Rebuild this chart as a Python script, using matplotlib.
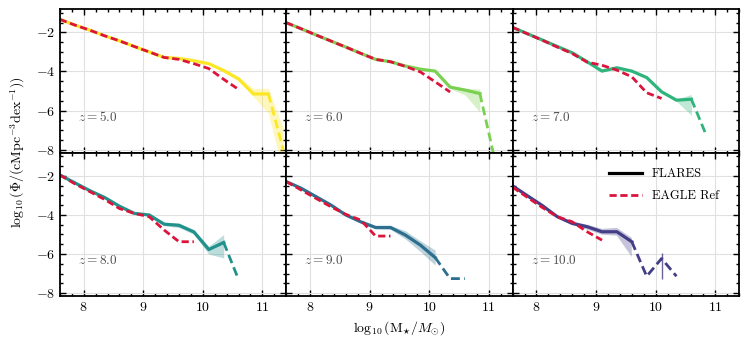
import numpy as np
import matplotlib
matplotlib.use("Agg")
import matplotlib.pyplot as plt
from matplotlib.ticker import MultipleLocator
from matplotlib.lines import Line2D

plt.rcParams["font.family"] = "serif"
plt.rcParams["font.serif"] = ["cmr10", "DejaVu Serif"]
plt.rcParams["mathtext.fontset"] = "cm"
plt.rcParams["axes.formatter.use_mathtext"] = True

nan = np.nan

# stellar mass bin centres, log10(M*/Msun)
mass = np.array([7.6, 7.85, 8.1, 8.35, 8.6, 8.85, 9.1, 9.35,
                 9.6, 9.85, 10.1, 10.35, 10.6, 10.85, 11.1, 11.35])

redshifts = [5.0, 6.0, 7.0, 8.0, 9.0, 10.0]
colors = ["#fde725", "#7ad151", "#2fb47c", "#21918c", "#2c6f8e", "#433e85"]

# last bin drawn solid (beyond: dashed)
solid_lim = [11.1, 10.85, 10.6, 10.35, 10.1, 9.6]

# FLARES GSMF
flares_phi = [
    [-1.33, -1.62, -1.88, -2.17, -2.43, -2.72, -3.00, -3.28, -3.33, -3.45, -3.60, -3.95, -4.38, -5.15, -5.15, -8.00],
    [-1.50, -1.81, -2.13, -2.44, -2.75, -3.07, -3.38, -3.50, -3.72, -3.88, -3.98, -4.80, -4.95, -5.13, -8.50, nan],
    [-1.74, -2.07, -2.39, -2.72, -3.04, -3.50, -3.98, -3.81, -3.98, -4.31, -5.04, -5.47, -5.42, -7.26, nan, nan],
    [-1.95, -2.35, -2.75, -3.10, -3.55, -3.92, -4.00, -4.47, -4.53, -4.87, -5.77, -5.41, -7.31, nan, nan, nan],
    [-2.29, -2.63, -3.06, -3.49, -4.00, -4.35, -4.64, -4.64, -5.03, -5.54, -6.18, -7.26, -7.26, nan, nan, nan],
    [-2.51, -3.02, -3.52, -4.09, -4.43, -4.60, -4.86, -4.86, -5.37, -7.14, -6.23, -7.14, nan, nan, nan, nan],
]
# band: offsets above / below the FLARES curve
flares_up = [
    [.02, .02, .02, .02, .02, .02, .02, .02, .03, .03, .05, .08, .12, .28, .28, 1.10],
    [.02, .02, .02, .02, .02, .02, .02, .03, .03, .04, .05, .08, .08, .23, nan, nan],
    [.02, .02, .02, .02, .03, .03, .03, .03, .04, .05, .06, .06, .24, nan, nan, nan],
    [.02, .02, .02, .03, .03, .04, .05, .08, .12, .12, .17, .41, nan, nan, nan, nan],
    [.02, .03, .03, .04, .05, .06, .08, .10, .22, .22, .38, nan, nan, nan, nan, nan],
    [.03, .03, .04, .05, .10, .10, .15, .20, .20, nan, .26, nan, nan, nan, nan, nan],
]
flares_dn = [
    [.02, .02, .02, .02, .02, .02, .02, .02, .03, .03, .05, .08, .12, .15, 1.00, 1.20],
    [.02, .02, .02, .02, .02, .02, .02, .03, .03, .04, .05, .08, .25, .94, nan, nan],
    [.02, .02, .02, .02, .03, .03, .03, .03, .04, .05, .06, .06, .82, nan, nan, nan],
    [.02, .02, .02, .03, .03, .04, .05, .08, .12, .12, .23, .79, nan, nan, nan, nan],
    [.02, .03, .03, .04, .05, .06, .08, .10, .20, .33, .39, nan, nan, nan, nan, nan],
    [.03, .03, .04, .05, .10, .15, .15, .20, .78, nan, 1.07, nan, nan, nan, nan, nan],
]

# EAGLE Ref GSMF
eagle_phi = [
    [-1.33, -1.62, -1.88, -2.17, -2.43, -2.72, -3.00, -3.28, -3.38, -3.60, -3.85, -4.40, -4.92, nan, nan, nan],
    [-1.50, -1.81, -2.13, -2.44, -2.75, -3.07, -3.38, -3.50, -3.74, -4.02, -4.53, -5.05, nan, nan, nan, nan],
    [-1.74, -2.07, -2.40, -2.75, -3.08, -3.52, -3.68, -3.93, -4.27, -5.09, -5.38, nan, nan, nan, nan, nan],
    [-1.95, -2.40, -2.80, -3.20, -3.67, -3.92, -4.09, -4.77, -5.37, -5.37, nan, nan, nan, nan, nan, nan],
    [-2.29, -2.72, -3.15, -3.58, -3.97, -4.26, -5.08, -5.08, nan, nan, nan, nan, nan, nan, nan, nan],
    [-2.58, -3.10, -3.62, -4.09, -4.35, -4.86, -5.29, nan, nan, nan, nan, nan, nan, nan, nan, nan],
]

fig, axes = plt.subplots(2, 3, figsize=(7.48, 3.47), dpi=100, sharex=True, sharey=True)
fig.subplots_adjust(left=0.080, right=0.988, top=0.974, bottom=0.147, wspace=0, hspace=0)

for i, ax in enumerate(axes.flat):
    c = colors[i]
    phi = np.array(flares_phi[i])
    lo = phi - np.array(flares_dn[i])
    hi = phi + np.array(flares_up[i])
    ax.fill_between(mass, lo, hi, color=c, alpha=0.3, lw=0)

    # isolated band bins (no neighbours) show up as thin vertical lines
    ok = np.isfinite(lo)
    for j in np.where(ok)[0]:
        left = j > 0 and ok[j - 1]
        right = j < len(ok) - 1 and ok[j + 1]
        if not left and not right:
            ax.vlines(mass[j], lo[j], hi[j], color=c, alpha=0.8, lw=1.0, zorder=3)

    solid = mass <= solid_lim[i] + 1e-6
    dashed = mass >= solid_lim[i] - 1e-6
    ax.plot(mass[solid], phi[solid], "-", color=c, lw=2.3)
    ax.plot(mass[dashed], phi[dashed], "--", color=c, lw=2.0, dashes=(3.2, 1.6))
    ax.plot(mass, eagle_phi[i], "--", color="crimson", lw=2.0, dashes=(2.6, 1.3))

    ax.text(7.9, -6.35, rf"$z = {redshifts[i]:.1f}$", fontsize=9.5, color="0.3", va="center")

    ax.set_xlim(7.6, 11.4)
    ax.set_ylim(-8.15, -0.8)
    ax.xaxis.set_major_locator(MultipleLocator(1))
    ax.xaxis.set_minor_locator(MultipleLocator(0.2))
    ax.yaxis.set_major_locator(MultipleLocator(2))
    ax.yaxis.set_minor_locator(MultipleLocator(0.5))
    ax.grid(True, which="major", color="#e0e0e0", lw=0.8)
    ax.set_axisbelow(True)
    ax.tick_params(which="both", direction="in", top=True, right=True, labelsize=10, width=1.0)
    ax.tick_params(which="major", length=4)
    ax.tick_params(which="minor", length=2.5)
    for s in ax.spines.values():
        s.set_linewidth(1.3)

handles = [Line2D([], [], color="black", lw=2.3),
           Line2D([], [], color="crimson", lw=2.0, ls="--", dashes=(2.6, 1.3))]
axes[1, 2].legend(handles, ["FLARES", "EAGLE Ref"], loc="upper right", frameon=False,
                  fontsize=9, handlelength=2.6, labelspacing=0.8,
                  bbox_to_anchor=(0.96, 0.97))

fig.text(0.024, 0.562, r"$\log_{10}(\Phi/(\mathrm{cMpc}^{-3}\mathrm{dex}^{-1}))$",
         rotation=90, ha="center", va="center", fontsize=10)
fig.text(0.534, 0.055, r"$\log_{10}(\mathrm{M}_{\star}/M_{\odot})$",
         ha="center", va="center", fontsize=10)

fig.savefig("out.png", dpi=100)
